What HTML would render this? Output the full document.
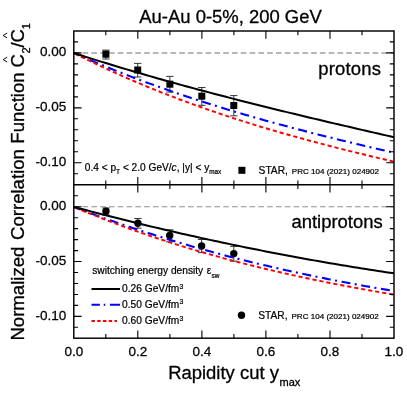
<!DOCTYPE html>
<html><head><meta charset="utf-8"><title>chart</title>
<style>html,body{margin:0;padding:0;background:#fff;}svg{display:block;will-change:transform;}text{font-family:"Liberation Sans",sans-serif;fill:#000;stroke:#000;stroke-width:0.22px;stroke-linejoin:round;}.b,.b text{stroke-width:0.3px;}.m{stroke-width:0.26px;}</style>
</head><body>
<svg width="407" height="394" viewBox="0 0 407 394">
<rect x="0" y="0" width="407" height="394" fill="#fff"/>
<line x1="73.8" y1="52.9" x2="394.0" y2="52.9" stroke="#a0a0a0" stroke-width="1.5" stroke-dasharray="5.6 3.19"/>
<line x1="73.8" y1="206.75" x2="394.0" y2="206.75" stroke="#8c8c8c" stroke-width="1" stroke-dasharray="5.6 3.19"/>
<path d="M105.9 50.1V59.0M102.2 50.1H109.6M102.2 59.0H109.6" stroke="#222" stroke-width="0.9" fill="none"/>
<rect x="102.4" y="50.7" width="7" height="7" fill="#000"/>
<path d="M137.7 63.4V77.0M134.0 63.4H141.4M134.0 77.0H141.4" stroke="#222" stroke-width="0.9" fill="none"/>
<rect x="134.2" y="66.5" width="7" height="7" fill="#000"/>
<path d="M169.9 76.4V92.1M166.2 76.4H173.6M166.2 92.1H173.6" stroke="#222" stroke-width="0.9" fill="none"/>
<rect x="166.4" y="80.7" width="7" height="7" fill="#000"/>
<path d="M201.8 87.5V105.3M198.1 87.5H205.5M198.1 105.3H205.5" stroke="#222" stroke-width="0.9" fill="none"/>
<rect x="198.3" y="92.7" width="7" height="7" fill="#000"/>
<path d="M233.8 95.6V115.8M230.1 95.6H237.5M230.1 115.8H237.5" stroke="#222" stroke-width="0.9" fill="none"/>
<rect x="230.3" y="102.0" width="7" height="7" fill="#000"/>
<path d="M106.0 208.0V215.0M102.3 208.0H109.7M102.3 215.0H109.7" stroke="#222" stroke-width="0.9" fill="none"/>
<circle cx="106.0" cy="211.3" r="3.7" fill="#000"/>
<path d="M137.9 218.5V228.2M134.2 218.5H141.6M134.2 228.2H141.6" stroke="#222" stroke-width="0.9" fill="none"/>
<circle cx="137.9" cy="223.3" r="3.7" fill="#000"/>
<path d="M169.7 229.8V241.8M166.0 229.8H173.4M166.0 241.8H173.4" stroke="#222" stroke-width="0.9" fill="none"/>
<circle cx="169.7" cy="235.5" r="3.7" fill="#000"/>
<path d="M201.6 239.5V252.6M197.9 239.5H205.3M197.9 252.6H205.3" stroke="#222" stroke-width="0.9" fill="none"/>
<circle cx="201.6" cy="246.0" r="3.7" fill="#000"/>
<path d="M233.8 246.4V261.2M230.1 246.4H237.5M230.1 261.2H237.5" stroke="#222" stroke-width="0.9" fill="none"/>
<circle cx="233.8" cy="253.6" r="3.7" fill="#000"/>
<polyline points="73.80,53.00 77.80,54.76 81.80,56.51 85.81,58.24 89.81,59.95 93.81,61.64 97.81,63.32 101.82,64.98 105.82,66.62 109.82,68.25 113.82,69.86 117.83,71.45 121.83,73.02 125.83,74.59 129.83,76.13 133.84,77.66 137.84,79.17 141.84,80.67 145.84,82.16 149.85,83.63 153.85,85.08 157.85,86.52 161.85,87.95 165.86,89.36 169.86,90.76 173.86,92.14 177.86,93.51 181.87,94.87 185.87,96.22 189.87,97.55 193.88,98.87 197.88,100.17 201.88,101.47 205.88,102.75 209.88,104.02 213.89,105.28 217.89,106.52 221.89,107.76 225.89,108.98 229.90,110.19 233.90,111.40 237.90,112.59 241.90,113.77 245.91,114.94 249.91,116.10 253.91,117.25 257.91,118.39 261.92,119.52 265.92,120.64 269.92,121.75 273.92,122.86 277.93,123.95 281.93,125.04 285.93,126.11 289.93,127.18 293.94,128.24 297.94,129.30 301.94,130.34 305.94,131.38 309.95,132.41 313.95,133.43 317.95,134.45 321.95,135.46 325.96,136.46 329.96,137.46 333.96,138.45 337.96,139.43 341.97,140.41 345.97,141.38 349.97,142.35 353.97,143.31 357.98,144.27 361.98,145.22 365.98,146.17 369.98,147.11 373.99,148.05 377.99,148.98 381.99,149.91 385.99,150.84 390.00,151.76 394.00,152.68" fill="none" stroke="#0000ff" stroke-width="2.1" stroke-dasharray="9.0 4.4 2.0 4.6" stroke-dashoffset="2.66"/>
<polyline points="73.80,53.00 77.80,55.02 81.80,57.02 85.81,58.99 89.81,60.95 93.81,62.88 97.81,64.79 101.82,66.67 105.82,68.54 109.82,70.38 113.82,72.21 117.83,74.01 121.83,75.79 125.83,77.56 129.83,79.30 133.84,81.02 137.84,82.72 141.84,84.40 145.84,86.07 149.85,87.71 153.85,89.34 157.85,90.95 161.85,92.54 165.86,94.11 169.86,95.66 173.86,97.20 177.86,98.72 181.87,100.22 185.87,101.71 189.87,103.18 193.88,104.63 197.88,106.07 201.88,107.49 205.88,108.89 209.88,110.28 213.89,111.66 217.89,113.02 221.89,114.36 225.89,115.69 229.90,117.01 233.90,118.31 237.90,119.60 241.90,120.88 245.91,122.14 249.91,123.39 253.91,124.63 257.91,125.85 261.92,127.06 265.92,128.26 269.92,129.45 273.92,130.63 277.93,131.79 281.93,132.95 285.93,134.09 289.93,135.22 293.94,136.34 297.94,137.46 301.94,138.56 305.94,139.65 309.95,140.73 313.95,141.81 317.95,142.87 321.95,143.93 325.96,144.97 329.96,146.01 333.96,147.04 337.96,148.07 341.97,149.08 345.97,150.09 349.97,151.09 353.97,152.09 357.98,153.07 361.98,154.05 365.98,155.03 369.98,156.00 373.99,156.96 377.99,157.92 381.99,158.87 385.99,159.82 390.00,160.76 394.00,161.70" fill="none" stroke="#ff0000" stroke-width="1.95" stroke-dasharray="4.2 2.9" stroke-dashoffset="6.29"/>
<polyline points="73.80,53.00 77.80,54.29 81.80,55.57 85.81,56.84 89.81,58.10 93.81,59.36 97.81,60.61 101.82,61.85 105.82,63.08 109.82,64.30 113.82,65.52 117.83,66.73 121.83,67.93 125.83,69.12 129.83,70.31 133.84,71.49 137.84,72.66 141.84,73.83 145.84,74.98 149.85,76.14 153.85,77.28 157.85,78.42 161.85,79.55 165.86,80.67 169.86,81.79 173.86,82.91 177.86,84.01 181.87,85.11 185.87,86.21 189.87,87.29 193.88,88.38 197.88,89.45 201.88,90.53 205.88,91.59 209.88,92.65 213.89,93.71 217.89,94.76 221.89,95.80 225.89,96.84 229.90,97.87 233.90,98.90 237.90,99.93 241.90,100.95 245.91,101.97 249.91,102.98 253.91,103.98 257.91,104.99 261.92,105.98 265.92,106.98 269.92,107.97 273.92,108.96 277.93,109.94 281.93,110.92 285.93,111.89 289.93,112.86 293.94,113.83 297.94,114.80 301.94,115.76 305.94,116.72 309.95,117.67 313.95,118.63 317.95,119.58 321.95,120.52 325.96,121.47 329.96,122.41 333.96,123.35 337.96,124.28 341.97,125.22 345.97,126.15 349.97,127.08 353.97,128.01 357.98,128.93 361.98,129.86 365.98,130.78 369.98,131.70 373.99,132.62 377.99,133.54 381.99,134.45 385.99,135.37 390.00,136.28 394.00,137.19" fill="none" stroke="#000" stroke-width="2"/>
<polyline points="73.80,206.90 77.80,208.43 81.80,209.95 85.81,211.45 89.81,212.94 93.81,214.41 97.81,215.87 101.82,217.32 105.82,218.75 109.82,220.16 113.82,221.57 117.83,222.96 121.83,224.33 125.83,225.70 129.83,227.05 133.84,228.38 137.84,229.71 141.84,231.02 145.84,232.31 149.85,233.60 153.85,234.87 157.85,236.13 161.85,237.37 165.86,238.61 169.86,239.83 173.86,241.03 177.86,242.23 181.87,243.41 185.87,244.58 189.87,245.74 193.88,246.89 197.88,248.03 201.88,249.15 205.88,250.26 209.88,251.36 213.89,252.45 217.89,253.53 221.89,254.60 225.89,255.65 229.90,256.69 233.90,257.73 237.90,258.75 241.90,259.76 245.91,260.76 249.91,261.75 253.91,262.73 257.91,263.70 261.92,264.65 265.92,265.60 269.92,266.54 273.92,267.46 277.93,268.38 281.93,269.29 285.93,270.19 289.93,271.07 293.94,271.95 297.94,272.82 301.94,273.68 305.94,274.52 309.95,275.36 313.95,276.19 317.95,277.02 321.95,277.83 325.96,278.63 329.96,279.42 333.96,280.21 337.96,280.99 341.97,281.75 345.97,282.51 349.97,283.26 353.97,284.01 357.98,284.74 361.98,285.47 365.98,286.19 369.98,286.90 373.99,287.60 377.99,288.29 381.99,288.98 385.99,289.66 390.00,290.33 394.00,290.99" fill="none" stroke="#0000ff" stroke-width="2.1" stroke-dasharray="9.0 4.4 2.0 4.6" stroke-dashoffset="1.63"/>
<polyline points="73.80,206.90 77.80,208.58 81.80,210.25 85.81,211.89 89.81,213.52 93.81,215.12 97.81,216.71 101.82,218.28 105.82,219.83 109.82,221.37 113.82,222.89 117.83,224.39 121.83,225.87 125.83,227.33 129.83,228.78 133.84,230.21 137.84,231.63 141.84,233.02 145.84,234.40 149.85,235.77 153.85,237.12 157.85,238.45 161.85,239.77 165.86,241.07 169.86,242.36 173.86,243.63 177.86,244.88 181.87,246.12 185.87,247.35 189.87,248.56 193.88,249.76 197.88,250.94 201.88,252.11 205.88,253.26 209.88,254.40 213.89,255.53 217.89,256.64 221.89,257.74 225.89,258.83 229.90,259.90 233.90,260.96 237.90,262.01 241.90,263.04 245.91,264.07 249.91,265.08 253.91,266.07 257.91,267.06 261.92,268.03 265.92,269.00 269.92,269.95 273.92,270.89 277.93,271.82 281.93,272.74 285.93,273.64 289.93,274.54 293.94,275.42 297.94,276.30 301.94,277.17 305.94,278.02 309.95,278.87 313.95,279.70 317.95,280.53 321.95,281.34 325.96,282.15 329.96,282.95 333.96,283.74 337.96,284.52 341.97,285.29 345.97,286.05 349.97,286.81 353.97,287.56 357.98,288.30 361.98,289.03 365.98,289.75 369.98,290.47 373.99,291.18 377.99,291.88 381.99,292.57 385.99,293.26 390.00,293.94 394.00,294.61" fill="none" stroke="#ff0000" stroke-width="1.95" stroke-dasharray="4.2 2.9" stroke-dashoffset="5.83"/>
<polyline points="73.80,206.90 77.80,207.97 81.80,209.03 85.81,210.09 89.81,211.14 93.81,212.18 97.81,213.22 101.82,214.25 105.82,215.28 109.82,216.30 113.82,217.31 117.83,218.32 121.83,219.32 125.83,220.32 129.83,221.31 133.84,222.30 137.84,223.28 141.84,224.25 145.84,225.22 149.85,226.18 153.85,227.13 157.85,228.08 161.85,229.02 165.86,229.96 169.86,230.89 173.86,231.82 177.86,232.74 181.87,233.65 185.87,234.56 189.87,235.46 193.88,236.35 197.88,237.24 201.88,238.12 205.88,239.00 209.88,239.87 213.89,240.74 217.89,241.59 221.89,242.45 225.89,243.29 229.90,244.13 233.90,244.97 237.90,245.80 241.90,246.62 245.91,247.44 249.91,248.25 253.91,249.05 257.91,249.85 261.92,250.64 265.92,251.43 269.92,252.21 273.92,252.98 277.93,253.75 281.93,254.51 285.93,255.26 289.93,256.01 293.94,256.76 297.94,257.49 301.94,258.22 305.94,258.95 309.95,259.67 313.95,260.38 317.95,261.09 321.95,261.79 325.96,262.48 329.96,263.17 333.96,263.85 337.96,264.52 341.97,265.19 345.97,265.86 349.97,266.51 353.97,267.16 357.98,267.81 361.98,268.45 365.98,269.08 369.98,269.70 373.99,270.32 377.99,270.94 381.99,271.54 385.99,272.14 390.00,272.74 394.00,273.33" fill="none" stroke="#000" stroke-width="2"/>
<rect x="73.8" y="31.0" width="320.2" height="307.2" fill="none" stroke="#000" stroke-width="1.45"/>
<line x1="73.8" y1="184.8" x2="394.0" y2="184.8" stroke="#000" stroke-width="1.45"/>
<path d="M105.8 31.0v4.2M105.8 180.60000000000002v8.4M105.8 338.2v-4.2M137.8 31.0v7.8M137.8 177.0v15.6M137.8 338.2v-7.8M169.9 31.0v4.2M169.9 180.60000000000002v8.4M169.9 338.2v-4.2M201.9 31.0v7.8M201.9 177.0v15.6M201.9 338.2v-7.8M233.9 31.0v4.2M233.9 180.60000000000002v8.4M233.9 338.2v-4.2M265.9 31.0v7.8M265.9 177.0v15.6M265.9 338.2v-7.8M297.9 31.0v4.2M297.9 180.60000000000002v8.4M297.9 338.2v-4.2M330.0 31.0v7.8M330.0 177.0v15.6M330.0 338.2v-7.8M362.0 31.0v4.2M362.0 180.60000000000002v8.4M362.0 338.2v-4.2M73.8 173.73h4.2M394.0 173.73h-4.2M73.8 327.31h4.2M394.0 327.31h-4.2M73.8 162.75h7.8M394.0 162.75h-7.8M73.8 316.35h7.8M394.0 316.35h-7.8M73.8 151.76h4.2M394.0 151.76h-4.2M73.8 305.39h4.2M394.0 305.39h-4.2M73.8 140.78h4.2M394.0 140.78h-4.2M73.8 294.43h4.2M394.0 294.43h-4.2M73.8 129.80h4.2M394.0 129.80h-4.2M73.8 283.47h4.2M394.0 283.47h-4.2M73.8 118.81h4.2M394.0 118.81h-4.2M73.8 272.51h4.2M394.0 272.51h-4.2M73.8 107.83h7.8M394.0 107.83h-7.8M73.8 261.55h7.8M394.0 261.55h-7.8M73.8 96.84h4.2M394.0 96.84h-4.2M73.8 250.59h4.2M394.0 250.59h-4.2M73.8 85.85h4.2M394.0 85.85h-4.2M73.8 239.63h4.2M394.0 239.63h-4.2M73.8 74.87h4.2M394.0 74.87h-4.2M73.8 228.67h4.2M394.0 228.67h-4.2M73.8 63.88h4.2M394.0 63.88h-4.2M73.8 217.71h4.2M394.0 217.71h-4.2M73.8 52.90h7.8M394.0 52.90h-7.8M73.8 206.75h7.8M394.0 206.75h-7.8M73.8 41.91h4.2M394.0 41.91h-4.2M73.8 195.79h4.2M394.0 195.79h-4.2" stroke="#000" stroke-width="1.1" fill="none"/>
<text class="m" x="66.2" y="56.2" font-size="13.5" text-anchor="end">0.00</text>
<text class="m" x="66.2" y="210.1" font-size="13.5" text-anchor="end">0.00</text>
<text class="m" x="66.2" y="111.1" font-size="13.5" text-anchor="end">-0.05</text>
<text class="m" x="66.2" y="264.9" font-size="13.5" text-anchor="end">-0.05</text>
<text class="m" x="66.2" y="166.1" font-size="13.5" text-anchor="end">-0.10</text>
<text class="m" x="66.2" y="319.7" font-size="13.5" text-anchor="end">-0.10</text>
<text class="m" x="73.8" y="356.2" font-size="13.5" text-anchor="middle">0.0</text>
<text class="m" x="137.8" y="356.2" font-size="13.5" text-anchor="middle">0.2</text>
<text class="m" x="201.9" y="356.2" font-size="13.5" text-anchor="middle">0.4</text>
<text class="m" x="265.9" y="356.2" font-size="13.5" text-anchor="middle">0.6</text>
<text class="m" x="330.0" y="356.2" font-size="13.5" text-anchor="middle">0.8</text>
<text class="m" x="394.0" y="356.2" font-size="13.5" text-anchor="middle">1.0</text>
<text class="b" x="139.3" y="22.6" font-size="18.45">Au-Au 0-5%, 200 GeV</text>
<text class="b" x="168.2" y="379.2" font-size="18.45">Rapidity cut y<tspan font-size="11" dy="6.8" dx="0.6">max</tspan></text>
<g class="b" transform="translate(23.8,0) rotate(-90)" font-size="18.6"><text x="-340.6" y="0">Normalized</text><text x="-240.0" y="0">Correlation</text><text x="-143.7" y="0">Function</text><text x="-67.6" y="0">C</text><text x="-53.4" y="6.1" font-size="11">2</text><text x="-47.5" y="0">/</text><text x="-42.4" y="0">C</text><text x="-29.3" y="6.1" font-size="11">1</text><path d="M-62.0 -16.6L-59.6 -20.7L-57.2 -16.6M-37.9 -16.6L-35.5 -20.7L-33.1 -16.6" fill="none" stroke="#111" stroke-width="1"/></g>
<text class="b" x="381.1" y="75.1" font-size="18.45" text-anchor="end" letter-spacing="0.2">protons</text>
<text class="b" x="382.7" y="228.4" font-size="18.45" text-anchor="end">antiprotons</text>
<text x="84.8" y="170.6" font-size="10.15">0.4 &lt; p<tspan font-size="6.6" dy="3.1">T</tspan><tspan dy="-3.1"> &lt; 2.0 GeV/</tspan><tspan font-style="italic">c</tspan>, |y| &lt; y<tspan font-size="6.4" dy="3.1">max</tspan></text>
<rect x="238.4" y="166.8" width="7" height="7" fill="#000"/>
<text x="258.6" y="173.7" font-size="10.2">STAR,</text><text x="291.8" y="173.7" font-size="8.05">PRC 104 (2021) 024902</text>
<circle cx="241.5" cy="315.3" r="3.7" fill="#000"/>
<text x="258.3" y="319.1" font-size="10.2">STAR,</text><text x="291.5" y="319.1" font-size="8.05">PRC 104 (2021) 024902</text>
<text x="92.2" y="274.1" font-size="10.2">switching energy density <tspan dx="0.8">ε</tspan><tspan font-size="6.5" dy="3.5" dx="0.2">sw</tspan></text>
<line x1="91.5" y1="289.0" x2="120.0" y2="289.0" stroke="#000" stroke-width="2"/>
<text x="122.1" y="292.4" font-size="10.2">0.26 GeV/fm<tspan font-size="6.8" dy="-3.9" dx="0.3">3</tspan></text>
<line x1="91.5" y1="304.7" x2="120.0" y2="304.7" stroke="#0000ff" stroke-width="2" stroke-dasharray="8.4 3.8 1.6 4.6 10.1 20"/>
<text x="122.1" y="308.1" font-size="10.2">0.50 GeV/fm<tspan font-size="6.8" dy="-3.9" dx="0.3">3</tspan></text>
<line x1="91.5" y1="321.0" x2="117.0" y2="321.0" stroke="#ff0000" stroke-width="2" stroke-dasharray="3.4 2.35"/>
<text x="122.1" y="324.4" font-size="10.2">0.60 GeV/fm<tspan font-size="6.8" dy="-3.9" dx="0.3">3</tspan></text>
</svg></body></html>
